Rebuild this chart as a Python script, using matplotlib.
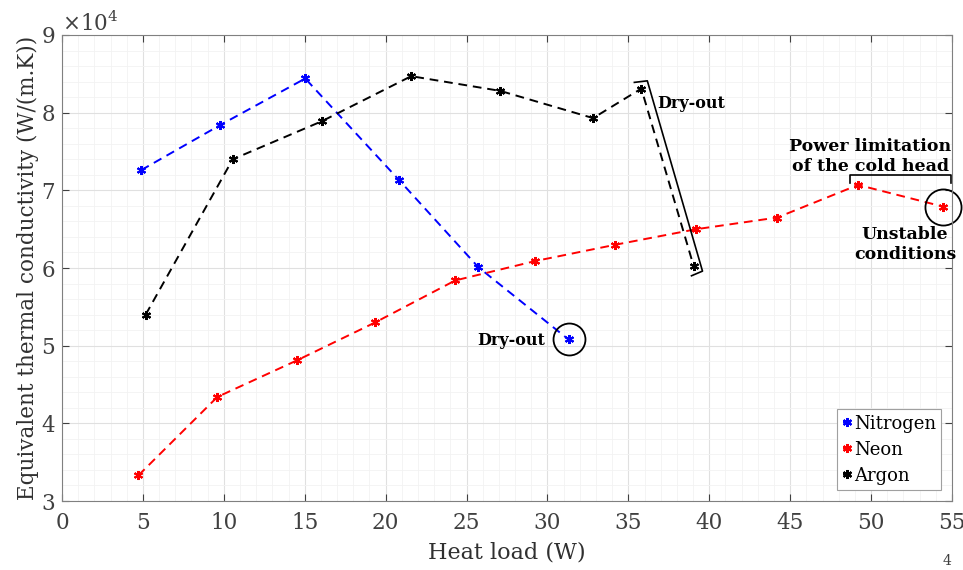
import matplotlib
matplotlib.use("Agg")
import matplotlib.pyplot as plt
from matplotlib.ticker import MultipleLocator, ScalarFormatter

# ---- data (W, W/(m.K)) ----
n2_x = [4.89, 9.77, 15.03, 20.84, 25.73, 31.3]
n2_y = [72600, 78400, 84400, 71300, 60100, 50800]

ne_x = [4.72, 9.6, 14.51, 19.36, 24.3, 29.25, 34.2, 39.2, 44.2, 49.2, 54.46]
ne_y = [33300, 43400, 48100, 53000, 58400, 60900, 63000, 65000, 66500, 70700, 67900]

ar_x = [5.17, 10.55, 16.06, 21.58, 27.09, 32.82, 35.8, 39.04]
ar_y = [54000, 74000, 78900, 84700, 82800, 79300, 83100, 60200]

series_names = ["Nitrogen", "Neon", "Argon"]
x_ticks = [0, 5, 10, 15, 20, 25, 30, 35, 40, 45, 50, 55]
y_ticks = [30000, 40000, 50000, 60000, 70000, 80000, 90000]

plt.rcParams['font.family'] = ['DejaVu Serif']
plt.rcParams['mathtext.fontset'] = 'dejavuserif'

fig = plt.figure(figsize=(9.63, 5.70), dpi=100)
ax = fig.add_axes([0.0644, 0.121, 0.9242, 0.8176])

ms = 6.5
ast = (6, 2, 0)
ax.plot(n2_x, n2_y, ls='--', color='#0000ff', lw=1.4, marker=ast, ms=ms, mew=1.5, label=series_names[0], dashes=(4.5, 3))
ax.plot(ne_x, ne_y, ls='--', color='#ff0000', lw=1.4, marker=ast, ms=ms, mew=1.5, label=series_names[1], dashes=(4.5, 3))
ax.plot(ar_x, ar_y, ls='--', color='black', lw=1.4, marker=ast, ms=ms, mew=1.5, label=series_names[2], dashes=(4.5, 3))

ax.set_xlim(0, 55)
ax.set_ylim(30000, 90000)
ax.set_xticks(x_ticks)
ax.set_yticks(y_ticks)
ax.xaxis.set_minor_locator(MultipleLocator(1))
ax.yaxis.set_minor_locator(MultipleLocator(2000))

fmt = ScalarFormatter(useMathText=True)
fmt.set_powerlimits((0, 0))
ax.yaxis.set_major_formatter(fmt)
ax.yaxis.get_offset_text().set_fontsize(15.5)
ax.yaxis.get_offset_text().set_color('#404040')

ax.grid(True, which='major', color='#e0e0e0', lw=0.8)
ax.grid(True, which='minor', color='#f2f2f2', lw=0.6)
ax.set_axisbelow(True)
ax.tick_params(which='both', direction='in', top=True, right=True, colors='#404040', labelsize=15.5)
ax.tick_params(axis='x', which='major', length=5, pad=8)
ax.tick_params(axis='y', which='major', length=5, pad=5)
ax.tick_params(which='minor', length=0)
for s in ax.spines.values():
    s.set_color('#808080')
    s.set_linewidth(0.8)

ax.set_xlabel("Heat load (W)", fontsize=16, color='#303030', labelpad=5)
ax.set_ylabel("Equivalent thermal conductivity (W/(m.K))", fontsize=15.5, color='#303030', labelpad=1)

# annotations
ax.plot([n2_x[-1]], [n2_y[-1]], marker='o', ms=23, mfc='none', mec='black', mew=1.3, clip_on=False)
ax.text(31.3 - 1.45, 50700, "Dry-out", fontsize=11.5, fontweight='bold', ha='right', va='center')

ax.plot([ne_x[-1]], [ne_y[-1]], marker='o', ms=26, mfc='none', mec='black', mew=1.3, clip_on=False)
ax.plot([48.69, 48.69, 54.92, 54.92], [70960, 71960, 71960, 70960], color='black', lw=1.2, clip_on=False)
ax.text(49.95, 74400, "Power limitation\nof the cold head", fontsize=12.5, fontweight='bold', ha='center', va='center', linespacing=1.25)
ax.text(52.1, 63000, "Unstable\nconditions", fontsize=12.5, fontweight='bold', ha='center', va='center', linespacing=1.25)

ax.plot([35.37, 36.17, 39.58, 38.9], [83900, 84100, 59600, 59000], color='black', lw=1.2)
ax.text(36.8, 81200, "Dry-out", fontsize=11.5, fontweight='bold', ha='left', va='center')

leg = ax.legend(loc='lower right', fontsize=13, handlelength=0.45, handletextpad=0.15,
                borderpad=0.3, labelspacing=0.45, fancybox=False, framealpha=1,
                edgecolor='#a0a0a0', borderaxespad=0.6)
leg.get_frame().set_linewidth(0.8)

fig.text(0.988, 0.003, "4", fontsize=10, color='#404040', ha='right', va='bottom')

fig.savefig("out.png", dpi=100)
